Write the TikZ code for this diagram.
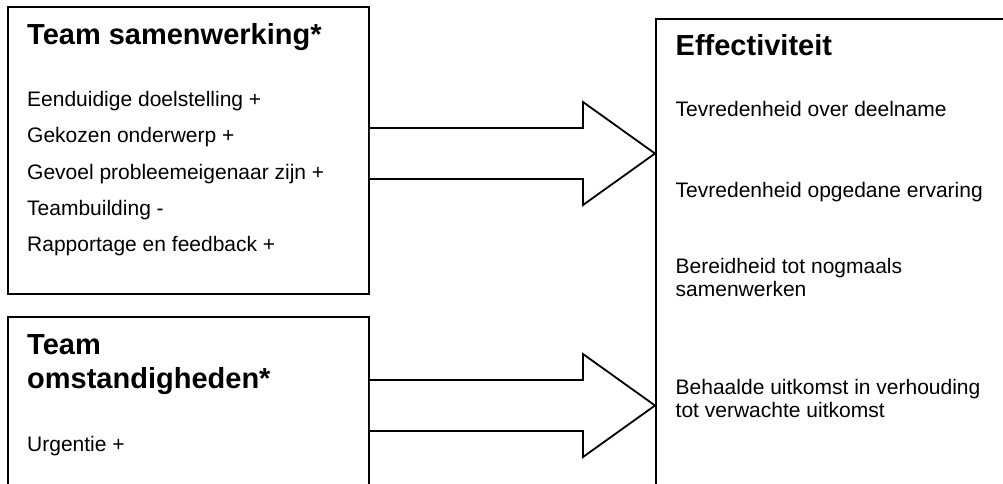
\documentclass[tikz,border=0pt]{standalone}
\usepackage{fontspec}
\setmainfont{Liberation Sans}
\begin{document}
\begin{tikzpicture}[x=1pt,y=-1pt,
  box/.style={draw, line width=1.8pt, inner sep=0pt, anchor=north west},
  blockarrow/.style={draw, fill=white, line width=1.8pt, line join=miter},
  title/.style={anchor=base west, inner sep=0pt, font=\fontsize{29}{33}\selectfont\bfseries},
  item/.style={anchor=base west, inner sep=0pt, font=\fontsize{21}{24}\selectfont}]
\useasboundingbox (0,0) rectangle (1003,483);
\clip (0,0) rectangle (1003,483);
\node[box, minimum width=361pt, minimum height=287pt] (b1) at (7,6) {};
\node[box, minimum width=361pt, minimum height=200pt] (b2) at (7,316) {};
\node[box, minimum width=380pt, minimum height=500pt] (b3) at (655,18) {};
% block arrows from the left boxes to the right box
\draw[blockarrow] (b1.east |- 0,128) -- (583,128) -- (583,102) -- (b3.west |- 0,153.5)
  -- (583,205) -- (583,179) -- (b1.east |- 0,179);
\draw[blockarrow] (b2.east |- 0,380) -- (583,380) -- (583,354) -- (b3.west |- 0,405.5)
  -- (583,457) -- (583,431) -- (b2.east |- 0,431);
% box 1
\node[title] (t1) at (27,44.5) {Team samenwerking*};
\node[item] (i11) at (27,106.5) {Eenduidige doelstelling +};
\node[item] (i12) at (27,142.5) {Gekozen onderwerp +};
\node[item] (i13) at (27,179) {Gevoel probleemeigenaar zijn +};
\node[item] (i14) at (27,215) {Teambuilding -};
\node[item] (i15) at (27,251) {Rapportage en feedback +};
% box 2
\node[title] (t2a) at (27,354.5) {Team};
\node[title] (t2b) at (27,388) {omstandigheden*};
\node[item] (i21) at (27,451) {Urgentie +};
% box 3
\node[title] (t3) at (675.5,55) {Effectiviteit};
\node[item] (i31) at (675.5,116) {Tevredenheid over deelname};
\node[item] (i32) at (675.5,197) {Tevredenheid opgedane ervaring};
\node[item] (i33a) at (675.5,273) {Bereidheid tot nogmaals};
\node[item] (i33b) at (675.5,296) {samenwerken};
\node[item] (i34a) at (675.5,394.5) {Behaalde uitkomst in verhouding};
\node[item] (i34b) at (675.5,417) {tot verwachte uitkomst};
\end{tikzpicture}
\end{document}
